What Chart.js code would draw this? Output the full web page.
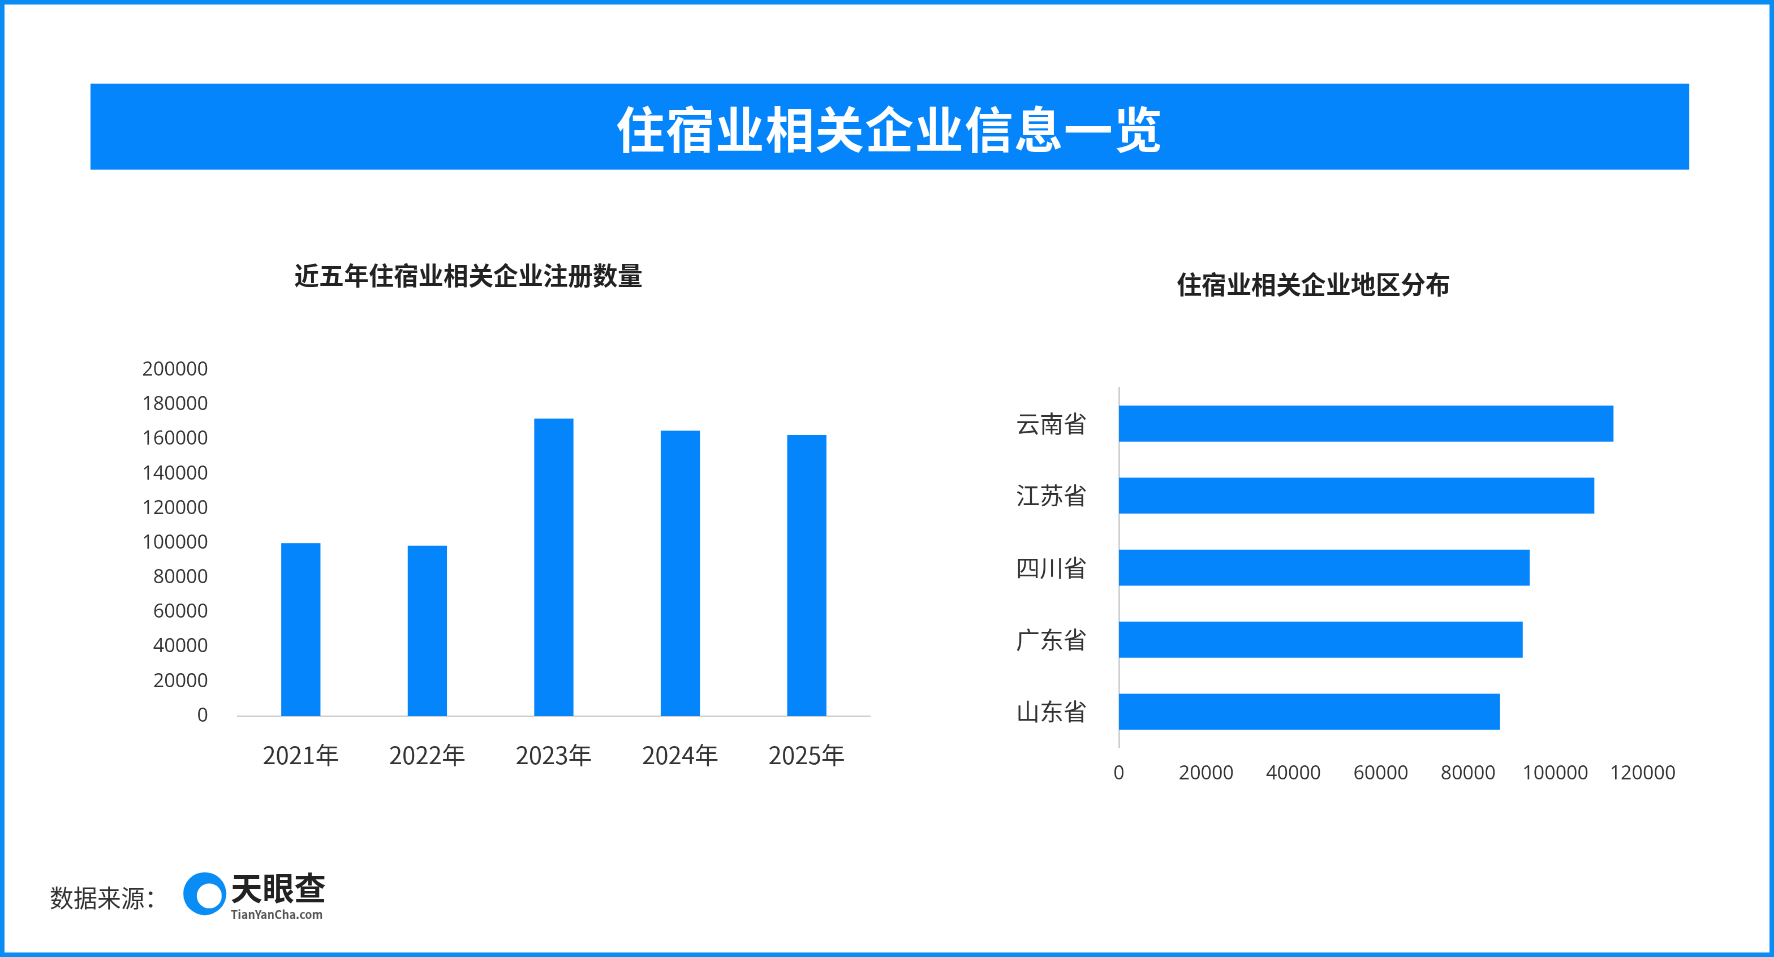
<!DOCTYPE html>
<html><head><meta charset="utf-8">
<script src="https://cdn.jsdelivr.net/npm/chart.js@4/dist/chart.umd.min.js"></script>
<style>
html,body{margin:0;padding:0;background:#fff;overflow:hidden}
#stage{position:absolute;left:0;top:0;width:1568px;height:846px;transform:scale(1.13138,1.13121);transform-origin:0 0;
  font-family:"Noto Sans CJK SC","Noto Sans",sans-serif;box-sizing:border-box;border:4px solid #0a8cf5;}
.abs{position:absolute}
#banner{left:76px;top:70px;width:1413px;height:76px;background:#0485fb;color:#fff;font-size:43px;font-weight:bold;
  text-align:center;line-height:76px;letter-spacing:1px}
.sub{font-size:22px;font-weight:bold;color:#222}
</style></head><body>
<div id="stage">
  <div id="banner" class="abs">住宿业相关企业信息一览</div>
  <div class="abs sub" style="left:256px;top:222px">近五年住宿业相关企业注册数量</div>
  <div class="abs sub" style="left:1036px;top:230px">住宿业相关企业地区分布</div>
  <div class="abs" style="left:93px;top:295px;width:680px;height:401px"><canvas id="c1"></canvas></div>
  <div class="abs" style="left:872px;top:306px;width:620px;height:394px"><canvas id="c2"></canvas></div>
  <div class="abs" style="left:40px;top:774px;font-size:21px;color:#333">数据来源：</div>
  <div class="abs" style="left:158px;top:767px;width:38px;height:38px;border-radius:50%;background:#0a8cf5"></div>
  <div class="abs" style="left:170px;top:777px;width:22px;height:22px;border-radius:50%;background:#fff"></div>
  <div class="abs" style="left:200px;top:764px;font-size:28px;font-weight:bold;color:#222;line-height:32px">天眼查</div>
  <div class="abs" style="left:200px;top:796px;font-size:10px;font-weight:bold;color:#555">TianYanCha.com</div>
</div>
<script>
const years = ['2021年', '2022年', '2023年', '2024年', '2025年'];
const regCounts = [100000, 98500, 172000, 165000, 162500];
const provinces = ['云南省', '江苏省', '四川省', '广东省', '山东省'];
const provCounts = [113300, 108900, 94100, 92500, 87300];
const blue = '#0485fb';
const font = { family: '"Open Sans","Noto Sans CJK SC",sans-serif' };
const plain = v => String(v);

new Chart(document.getElementById('c1'), {
  type: 'bar',
  data: { labels: years, datasets: [{ data: regCounts, backgroundColor: blue, barPercentage: 0.31, categoryPercentage: 1 }] },
  options: {
    responsive: true, maintainAspectRatio: false, animation: false, devicePixelRatio: 2,
    layout: { padding: { top: 6, right: 8 } },
    plugins: { legend: { display: false }, tooltip: { enabled: false } },
    scales: {
      x: { grid: { display: false }, border: { color: '#d0d0d0', width: 1.5 },
        ticks: { color: '#333', font: { family: '"Noto Sans CJK SC",sans-serif', size: 21 }, padding: 14 },
        afterFit: s => { s.height = 67; } },
      y: { min: 0, max: 200000, grid: { display: false }, border: { display: false },
        ticks: { stepSize: 20000, color: '#333', font: { ...font, size: 17 }, padding: 18, callback: plain },
        afterFit: s => { s.width = 113; } }
    }
  }
});

new Chart(document.getElementById('c2'), {
  type: 'bar',
  data: { labels: provinces, datasets: [{ data: provCounts, backgroundColor: blue, barPercentage: 0.5, categoryPercentage: 1 }] },
  options: {
    indexAxis: 'y', responsive: true, maintainAspectRatio: false, animation: false, devicePixelRatio: 2,
    layout: { padding: { top: 3, right: 44 } },
    plugins: { legend: { display: false }, tooltip: { enabled: false } },
    scales: {
      x: { min: 0, max: 120000, grid: { display: false }, border: { display: false },
        ticks: { stepSize: 20000, color: '#333', font: { ...font, size: 17 }, padding: 5, callback: plain },
        afterFit: s => { s.height = 43; } },
      y: { grid: { display: false }, border: { color: '#d0d0d0', width: 1.5 },
        ticks: { color: '#333', font: { family: '"Noto Sans CJK SC",sans-serif', size: 21 }, padding: 20 },
        afterFit: s => { s.width = 113; } }
    }
  }
});
</script>
</body></html>
